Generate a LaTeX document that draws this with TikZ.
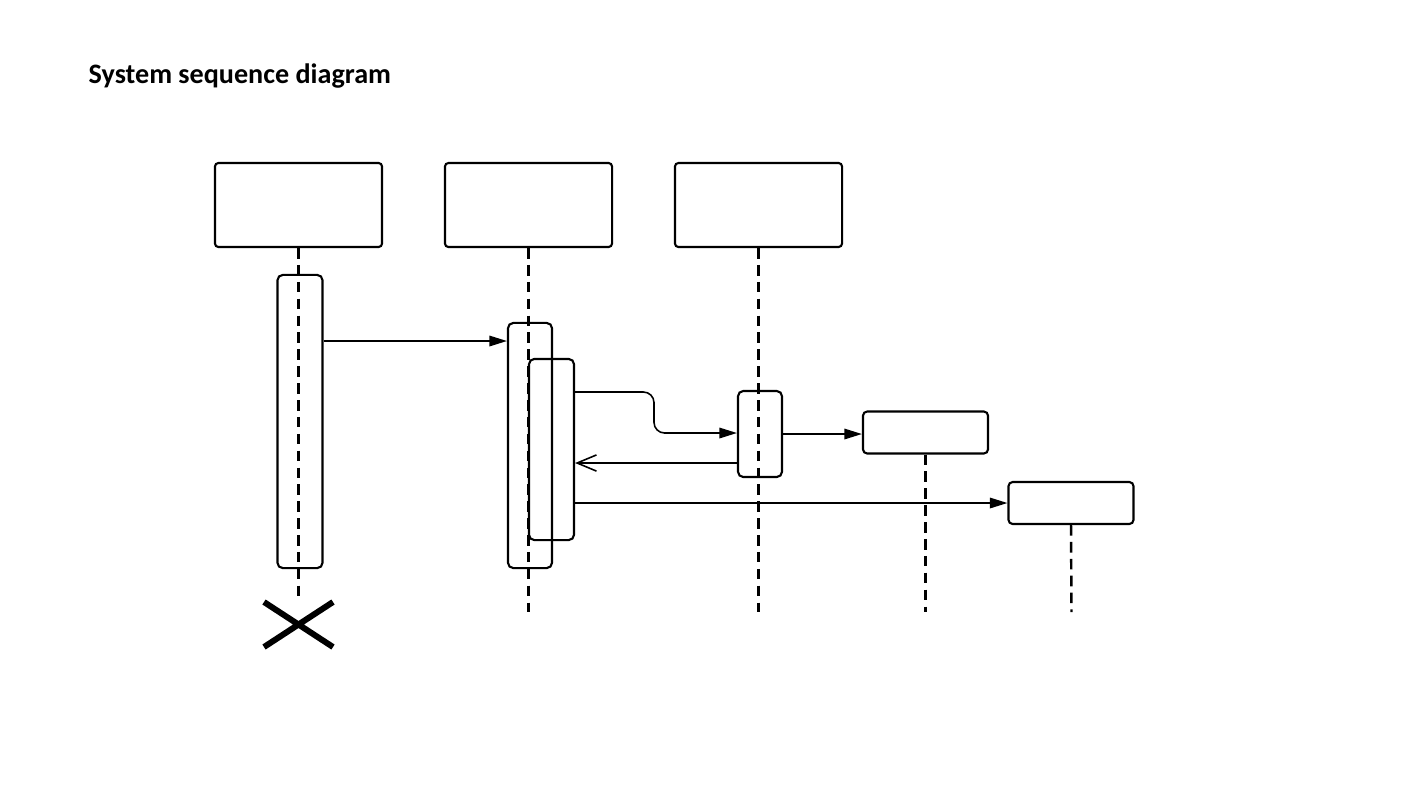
\documentclass[tikz,border=0pt]{standalone}
\usepackage{fontspec}
\setmainfont{Carlito}
\usetikzlibrary{arrows.meta}

\begin{document}
\begin{tikzpicture}[x=0.01cm, y=-0.01cm,
    head/.style={draw, line width=0.6pt, rounded corners=1pt, minimum width=1.67cm, minimum height=0.84cm, inner sep=0pt},
    obj/.style={draw, line width=0.6pt, rounded corners=1.2pt, minimum width=1.25cm, minimum height=0.42cm, inner sep=0pt},
    act/.style={draw, line width=0.6pt, rounded corners=1.5pt, minimum width=0.45cm, inner sep=0pt},
    life/.style={line width=0.7pt, dash pattern=on 3pt off 1.8pt},
    msg/.style={line width=0.45pt, -{Triangle[length=5pt, width=3pt]}},
    reply/.style={line width=0.45pt, -{Straight Barb[length=5.5pt, width=4.6pt]}} ]
      \useasboundingbox (0,0) rectangle (1409,796);
      \node[anchor=base west, inner sep=0pt, font=\bfseries\fontsize{8}{10}\selectfont] (title) at (88,83) {System sequence diagram};
      % lifeline heads
      \node[head] (h1) at (298.5,205) {};
      \node[head] (h2) at (528.5,205) {};
      \node[head] (h3) at (758.5,205) {};
      \node[obj] (o4) at (925.5,432.5) {};
      \node[obj] (o5) at (1071,503) {};
      % lifelines
      \draw[life] (h1.south) -- (298.5,600);
      \draw[life] (h2.south) -- (528.5,612);
      \draw[life] (h3.south) -- (758.5,612);
      \draw[life] (o4.south) -- (925.5,612);
      \draw[life] (o5.south) -- (1071.5,612);
      % activations
      \node[act, minimum height=2.93cm] (a1) at (300,421.5) {};
      \node[act, minimum height=2.45cm, minimum width=0.44cm] (a2) at (530,445.5) {};
      \node[act, minimum height=1.81cm] (a2b) at (551.5,449.5) {};
      \node[act, minimum height=0.86cm, minimum width=0.44cm] (a3) at (760,434) {};
      % messages
      \draw[msg] (a1.east |- 0,341) -- (a2.west |- 0,341);
      \draw[msg, rounded corners=3pt] (a2b.east |- 0,392) -- (654,392) -- (654,433) -- (a3.west |- 0,433);
      \draw[msg] (a3.east) -- (o4.west |- a3.east);
      \draw[reply] (a3.west |- 0,463) -- (a2b.east |- 0,463);
      \draw[msg] (a2b.east |- o5.west) -- (o5.west);
      % destruction
      \draw[line width=1.7pt] (264,602) -- (333,647) (264,647) -- (333,602);
\end{tikzpicture}
\end{document}
